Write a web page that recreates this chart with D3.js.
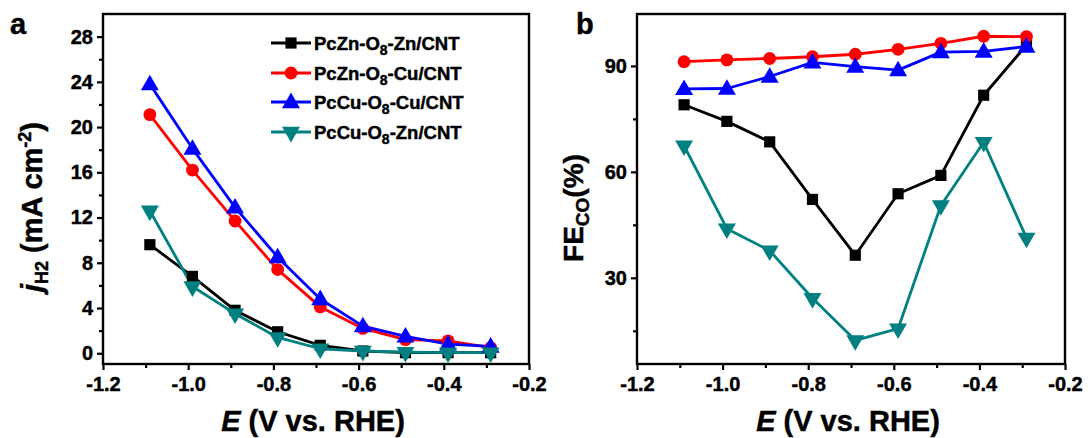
<!DOCTYPE html>
<html>
<head>
<meta charset="utf-8">
<script src="https://cdn.jsdelivr.net/npm/d3@7"></script>
<style>
  html, body { margin: 0; padding: 0; background: #fff; }
  svg { display: block; font-family: "Liberation Sans", Arial, sans-serif; font-weight: bold; }
  text { stroke: #000; stroke-width: 0.45px; fill: #000; }
</style>
</head>
<body>
<svg id="chart" width="1088" height="438"></svg>
<script>
// ---------- data ----------
const potentials = [-1.09, -0.99, -0.89, -0.79, -0.69, -0.59, -0.49, -0.39, -0.29];
const seriesNames = ["PcZn-O8-Zn/CNT", "PcZn-O8-Cu/CNT", "PcCu-O8-Cu/CNT", "PcCu-O8-Zn/CNT"];
const seriesColors = ["#000000", "#ff0000", "#0000ff", "#008080"];
const seriesSymbols = ["square", "circle", "triangle", "triangleDown"];

// panel a: j_H2 (mA cm-2)
const jH2_ZnZn = [9.6, 6.8, 3.8, 1.9, 0.7, 0.2, 0.05, 0.05, 0.05];
const jH2_ZnCu = [21.1, 16.2, 11.7, 7.4, 4.1, 2.2, 1.2, 1.1, 0.5];
const jH2_CuCu = [23.8, 18.1, 12.9, 8.5, 4.8, 2.4, 1.5, 0.8, 0.6];
const jH2_CuZn = [12.6, 5.9, 3.5, 1.4, 0.4, 0.2, 0.1, 0.05, 0.05];

// panel b: FE_CO (%)
const fe_ZnZn = [79.0, 74.3, 68.5, 52.2, 36.4, 53.8, 59.0, 81.7, 95.9];
const fe_ZnCu = [91.2, 91.7, 92.1, 92.6, 93.3, 94.7, 96.4, 98.4, 98.3];
const fe_CuCu = [83.5, 83.6, 87.0, 91.0, 89.8, 88.8, 93.9, 94.1, 95.5];
const fe_CuZn = [67.4, 43.9, 37.7, 24.2, 12.3, 15.6, 50.5, 68.4, 41.3];

const xTicks = [-1.2, -1.0, -0.8, -0.6, -0.4, -0.2];
const xMinorTicks = [-1.1, -0.9, -0.7, -0.5, -0.3];
const yTicksA = [0, 4, 8, 12, 16, 20, 24, 28];
const yMinorTicksA = [2, 6, 10, 14, 18, 22, 26];
const yTicksB = [30, 60, 90];
const yMinorTicksB = [15, 45, 75];

// ---------- drawing ----------
const svg = d3.select("#chart");

const symbolMap = {
  square: d3.symbolSquare,
  circle: d3.symbolCircle,
  triangle: d3.symbolTriangle,
  triangleDown: d3.symbolTriangle
};
const symbolSize = { square: 125, circle: 130, triangle: 140, triangleDown: 140 };

function drawMarker(g, sym, color, x, y) {
  g.append("path")
    .attr("d", d3.symbol().type(symbolMap[sym]).size(symbolSize[sym])())
    .attr("transform", `translate(${x},${y})` + (sym === "triangleDown" ? " rotate(180)" : "") + (sym === "triangle" ? " translate(0,1)" : ""))
    .attr("fill", color);
}

const hyphenFmt = d => d3.format(".1f")(d).replace("\u2212", "-");

function drawPanel(cfg) {
  const x = d3.scaleLinear().domain([-1.2, -0.2]).range([cfg.left, cfg.right]);
  const y = d3.scaleLinear().domain(cfg.yDomain).range([cfg.bottom, cfg.top]);
  const g = svg.append("g");

  // frame
  g.append("rect")
    .attr("x", cfg.left).attr("y", cfg.top)
    .attr("width", cfg.right - cfg.left).attr("height", cfg.bottom - cfg.top)
    .attr("fill", "none").attr("stroke", "#000").attr("stroke-width", 2.4);

  // x axis
  const xAxis = d3.axisBottom(x).tickValues(xTicks).tickSize(6).tickPadding(4)
    .tickFormat(hyphenFmt);
  const gx = g.append("g").attr("transform", `translate(0,${cfg.bottom})`).call(xAxis);
  const xMinor = d3.axisBottom(x).tickValues(xMinorTicks).tickSize(4).tickFormat("");
  const gxm = g.append("g").attr("transform", `translate(0,${cfg.bottom})`).call(xMinor);

  // y axis
  const yAxis = d3.axisLeft(y).tickValues(cfg.yTicks).tickSize(6).tickPadding(4);
  const gy = g.append("g").attr("transform", `translate(${cfg.left},0)`).call(yAxis);
  const yMinor = d3.axisLeft(y).tickValues(cfg.yMinor).tickSize(4).tickFormat("");
  const gym = g.append("g").attr("transform", `translate(${cfg.left},0)`).call(yMinor);

  [gx, gxm, gy, gym].forEach(a => {
    a.select(".domain").remove();
    a.selectAll(".tick line").attr("stroke", "#000").attr("stroke-width", 2.2);
    a.selectAll(".tick text").attr("fill", "#000")
      .style("font-family", '"Liberation Sans", Arial, sans-serif')
      .style("font-weight", "bold").style("font-size", "20px");
  });
  gx.selectAll(".tick text").attr("dy", "0.85em");

  // series
  cfg.series.forEach((vals, i) => {
    const pts = potentials.map((p, k) => [x(p), y(vals[k])]);
    g.append("path")
      .attr("d", d3.line()(pts))
      .attr("fill", "none").attr("stroke", seriesColors[i]).attr("stroke-width", 2.8)
      .attr("stroke-linejoin", "round");
  });
  cfg.series.forEach((vals, i) => {
    potentials.forEach((p, k) => drawMarker(g, seriesSymbols[i], seriesColors[i], x(p), y(vals[k])));
  });

  // panel letter
  g.append("text").attr("x", cfg.letterX).attr("y", 34)
    .style("font-size", "29px").text(cfg.letter);

  // x title
  const xt = g.append("text")
    .attr("transform", `translate(${(cfg.left + cfg.right) / 2 - 3},431)`)
    .attr("text-anchor", "middle").style("font-size", "29px");
  xt.append("tspan").style("font-style", "italic").text("E");
  xt.append("tspan").text(" (V vs. RHE)");

  return { x, y, g };
}

// Panel a
const pa = drawPanel({
  left: 103, right: 529, top: 14, bottom: 364,
  yDomain: [-0.95, 30], yTicks: yTicksA, yMinor: yMinorTicksA,
  series: [jH2_ZnZn, jH2_ZnCu, jH2_CuCu, jH2_CuZn],
  letter: "a", letterX: 10
});

// y title a
{
  const t = pa.g.append("text")
    .attr("transform", "translate(42,207) rotate(-90)")
    .attr("text-anchor", "middle").style("font-size", "29px");
  t.append("tspan").style("font-style", "italic").text("j");
  t.append("tspan").attr("dy", 6).style("font-size", "18px").text("H2");
  t.append("tspan").attr("dy", -6).text(" (mA cm");
  t.append("tspan").attr("dy", -11).style("font-size", "18px").text("-2");
  t.append("tspan").attr("dy", 11).text(")");
}

// Legend (panel a)
const legendY = [43, 73, 102, 132];
seriesNames.forEach((name, i) => {
  const ly = legendY[i];
  pa.g.append("line").attr("x1", 271).attr("x2", 311).attr("y1", ly).attr("y2", ly)
    .attr("stroke", seriesColors[i]).attr("stroke-width", 3);
  drawMarker(pa.g, seriesSymbols[i], seriesColors[i], 291, ly);
  const parts = name.split("O8");
  const t = pa.g.append("text").attr("x", 314).attr("y", ly + 6.5).style("font-size", "18.5px");
  t.append("tspan").text(parts[0] + "O");
  t.append("tspan").attr("dy", 5).style("font-size", "14px").text("8");
  t.append("tspan").attr("dy", -5).text(parts[1]);
});

// Panel b
const pb = drawPanel({
  left: 637, right: 1065, top: 14, bottom: 364,
  yDomain: [5.6, 104.7], yTicks: yTicksB, yMinor: yMinorTicksB,
  series: [fe_ZnZn, fe_ZnCu, fe_CuCu, fe_CuZn],
  letter: "b", letterX: 576
});

// y title b
{
  const t = pb.g.append("text")
    .attr("transform", "translate(583,208) rotate(-90)")
    .attr("text-anchor", "middle").style("font-size", "28px");
  t.append("tspan").text("FE");
  t.append("tspan").attr("dy", 6).style("font-size", "19px").text("CO");
  t.append("tspan").attr("dy", -6).text("(%)");
}
</script>
</body>
</html>
